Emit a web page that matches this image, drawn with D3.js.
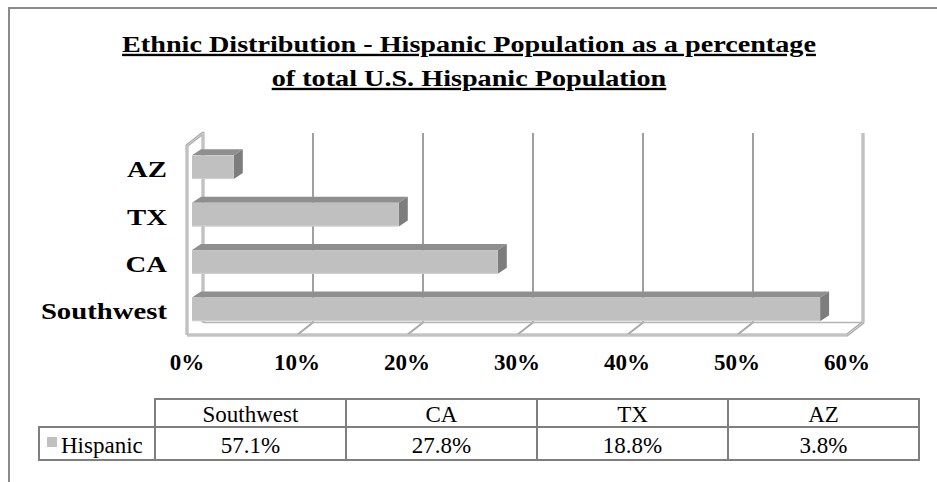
<!DOCTYPE html>
<html>
<head>
<meta charset="utf-8">
<script src="https://cdn.jsdelivr.net/npm/d3@7"></script>
<style>
  html, body { margin: 0; padding: 0; background: #fff; }
  svg { display: block; }
  text { font-family: "Liberation Serif", "Times New Roman", serif; fill: #000; }
</style>
</head>
<body>
<svg id="chart" width="937" height="482"></svg>
<script>
// Chart data
const titleLines = ["Ethnic Distribution - Hispanic Population as a percentage",
                    "of total U.S. Hispanic Population"];
const categories = ["Southwest", "CA", "TX", "AZ"];
const seriesName = "Hispanic";
const hispanicPct = [57.1, 27.8, 18.8, 3.8];
const tickValues = [0, 10, 20, 30, 40, 50, 60];

const svg = d3.select("#chart");

// Outer chart frame (runs past the right and bottom edges)
svg.append("rect")
  .attr("x", 9).attr("y", 8).attr("width", 950).attr("height", 500)
  .attr("fill", "#fff").attr("stroke", "#8a8a8a").attr("stroke-width", 2);

// Title, set in a horizontally widened bold serif
const titleCx = 469;
const title = svg.append("g")
  .attr("transform", `translate(${titleCx},0) scale(1.2,1)`)
  .append("text")
  .attr("text-anchor", "middle")
  .attr("font-weight", "bold").attr("font-size", 23.5)
  .attr("text-decoration", "underline");
titleLines.forEach((t, i) => {
  title.append("tspan").attr("x", 0).attr("y", 52 + i * 34).text(t);
});

// 3D plot geometry: front plane and depth offset of the back wall
const depth = { dx: 16, dy: -12.5 };
const frontTop = 145.5, frontBottom = 335;
const x = d3.scaleLinear().domain([0, 60]).range([187, 847]);
const y = d3.scaleBand()
  .domain(categories.slice().reverse())
  .range([frontTop, frontBottom])
  .paddingInner(0.5).paddingOuter(0.25);

const backTop = frontTop + depth.dy, backBottom = frontBottom + depth.dy;
const wallStroke = "#a9a9a9", wallInner = "#dadada";

const line = d3.line();
function wallPath(pts, closed) {
  const g = svg.append("g");
  const d = line(pts) + (closed ? "Z" : "");
  g.append("path").attr("d", d).attr("fill", "none")
    .attr("stroke", wallStroke).attr("stroke-width", 3).attr("stroke-linejoin", "round");
  g.append("path").attr("d", d).attr("fill", "none")
    .attr("stroke", wallInner).attr("stroke-width", 1);
}

// Back wall gridlines
svg.append("g").selectAll("line").data(tickValues.slice(1, -1)).join("line")
  .attr("x1", d => x(d) + depth.dx).attr("x2", d => x(d) + depth.dx)
  .attr("y1", backTop).attr("y2", backBottom)
  .attr("stroke", "#a0a0a0").attr("stroke-width", 2);

// Floor diagonals at each tick
svg.append("g").selectAll("line").data(tickValues.slice(1, -1)).join("line")
  .attr("x1", d => x(d)).attr("y1", frontBottom)
  .attr("x2", d => x(d) + depth.dx).attr("y2", backBottom)
  .attr("stroke", "#a9a9a9").attr("stroke-width", 2);

// Floor back edge
svg.append("line")
  .attr("x1", x(0) + depth.dx).attr("x2", x(60) + depth.dx)
  .attr("y1", backBottom).attr("y2", backBottom)
  .attr("stroke", "#b5b5b5").attr("stroke-width", 1.5);

// Left side wall
wallPath([[x(0), frontBottom], [x(0), frontTop], [x(0) + depth.dx, backTop], [x(0) + depth.dx, backBottom]], false);
// Floor front edge and right corner
wallPath([[x(0), frontBottom], [x(60), frontBottom], [x(60) + depth.dx, backBottom], [x(60) + depth.dx, backTop]], false);

// 3D bars
const barShift = { dx: 5, dy: -2 };
const barDepth = { dx: 9, dy: -6 };
const bars = svg.append("g").selectAll("g")
  .data(categories.map((c, i) => ({ c, v: hispanicPct[i] })))
  .join("g");

bars.each(function (d) {
  const g = d3.select(this);
  const x0 = x(0) + barShift.dx, x1 = x(d.v) + barShift.dx;
  const y0 = y(d.c) + barShift.dy, y1 = y0 + y.bandwidth();
  // top face
  g.append("path")
    .attr("d", line([[x0, y0], [x0 + barDepth.dx, y0 + barDepth.dy], [x1 + barDepth.dx, y0 + barDepth.dy], [x1, y0]]) + "Z")
    .attr("fill", "#8f8f8f");
  // side face
  g.append("path")
    .attr("d", line([[x1, y0], [x1 + barDepth.dx, y0 + barDepth.dy], [x1 + barDepth.dx, y1 + barDepth.dy], [x1, y1]]) + "Z")
    .attr("fill", "#7d7d7d");
  // front face
  g.append("rect")
    .attr("x", x0).attr("y", y0).attr("width", x1 - x0).attr("height", y1 - y0)
    .attr("fill", "#c0c0c0");
  g.append("line")
    .attr("x1", x0).attr("x2", x1).attr("y1", y1 - 0.5).attr("y2", y1 - 0.5)
    .attr("stroke", "#d0d0d0").attr("stroke-width", 1);
});

// Category labels (widened to match the title lettering)
const labelRight = 167;
svg.append("g").attr("transform", `translate(${labelRight},0) scale(1.25,1)`)
  .selectAll("text").data(categories).join("text")
  .attr("x", 0).attr("y", d => y(d) + y.bandwidth() / 2)
  .attr("dy", "0.35em")
  .attr("text-anchor", "end").attr("font-weight", "bold").attr("font-size", 23)
  .text(d => d);

// Value axis labels
svg.append("g").selectAll("text").data(tickValues).join("text")
  .attr("x", d => x(d)).attr("y", 370)
  .attr("text-anchor", "middle").attr("font-weight", "bold").attr("font-size", 23)
  .text(d => d + "%");

// Data table
const tbl = { left: 39, colStart: 155, right: 919, top: 399, mid: 427, bottom: 460 };
const col = d3.scaleBand().domain(categories).range([tbl.colStart, tbl.right]);
const tg = svg.append("g");
const tStroke = "#7f7f7f";

tg.selectAll("rect.head").data(categories).join("rect")
  .attr("class", "head")
  .attr("x", d => col(d)).attr("y", tbl.top)
  .attr("width", col.bandwidth()).attr("height", tbl.mid - tbl.top)
  .attr("fill", "none").attr("stroke", tStroke).attr("stroke-width", 2);
tg.selectAll("rect.val").data(categories).join("rect")
  .attr("class", "val")
  .attr("x", d => col(d)).attr("y", tbl.mid)
  .attr("width", col.bandwidth()).attr("height", tbl.bottom - tbl.mid)
  .attr("fill", "none").attr("stroke", tStroke).attr("stroke-width", 2);
tg.append("rect")
  .attr("x", tbl.left).attr("y", tbl.mid)
  .attr("width", tbl.colStart - tbl.left).attr("height", tbl.bottom - tbl.mid)
  .attr("fill", "none").attr("stroke", tStroke).attr("stroke-width", 2);

tg.selectAll("text.head").data(categories).join("text")
  .attr("class", "head")
  .attr("x", d => col(d) + col.bandwidth() / 2).attr("y", 422)
  .attr("text-anchor", "middle").attr("font-size", 23)
  .text(d => d);
tg.selectAll("text.val").data(categories).join("text")
  .attr("class", "val")
  .attr("x", d => col(d) + col.bandwidth() / 2).attr("y", 453)
  .attr("text-anchor", "middle").attr("font-size", 23)
  .text((d, i) => hispanicPct[i].toFixed(1) + "%");

// Legend key inside the table
tg.append("rect")
  .attr("x", 47).attr("y", 437).attr("width", 10).attr("height", 10)
  .attr("fill", "#c0c0c0");
tg.append("text")
  .attr("x", 61).attr("y", 453).attr("font-size", 23)
  .text(seriesName);
</script>
</body>
</html>
